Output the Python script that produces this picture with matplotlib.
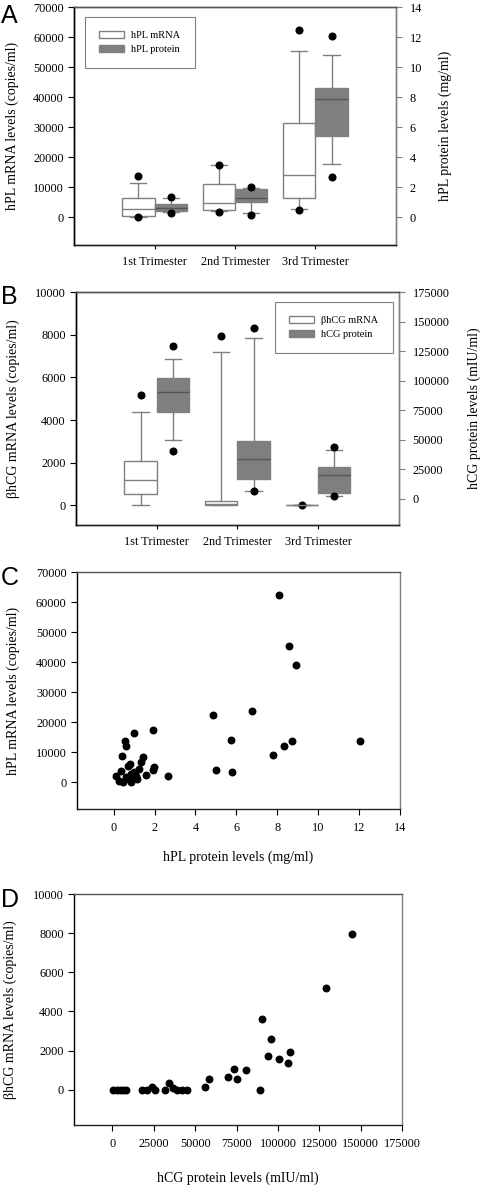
import numpy as np
import matplotlib
matplotlib.use('Agg')
import matplotlib.pyplot as plt
from matplotlib.patches import Patch

plt.rcParams['font.family'] = ['Liberation Serif', 'DejaVu Serif']

trimesters = ['1st Trimester', '2nd Trimester', '3rd Trimester']

# Panel A - hPL mRNA (copies/ml), left axis
hpl_mrna_whislo = [100, 1900, 2700]
hpl_mrna_q1 = [350, 2400, 6500]
hpl_mrna_med = [2700, 4750, 14000]
hpl_mrna_q3 = [6200, 10900, 31200]
hpl_mrna_whishi = [11200, 17300, 55400]
hpl_mrna_fliers = [[13700, -100], [17400, 1800], [62300, 2200]]

# Panel A - hPL protein (mg/ml), right axis
hpl_prot_whislo = [0.35, 0.30, 3.55]
hpl_prot_q1 = [0.40, 1.02, 5.41]
hpl_prot_med = [0.62, 1.28, 7.85]
hpl_prot_q3 = [0.85, 1.85, 8.62]
hpl_prot_whishi = [1.28, 1.95, 10.78]
hpl_prot_fliers = [[1.35, 0.29], [2.0, 0.14], [12.05, 2.7]]

# Panel B - bhCG mRNA (copies/ml), left axis
hcg_mrna_whislo = [0, 0, 0]
hcg_mrna_q1 = [550, 0, 0]
hcg_mrna_med = [1190, 50, 0]
hcg_mrna_q3 = [2090, 190, 0]
hcg_mrna_whishi = [4390, 7190, 0]
hcg_mrna_fliers = [[5190], [7940], [30]]

# Panel B - hCG protein (mIU/ml), right axis
hcg_prot_whislo = [49400, 6200, 2300]
hcg_prot_q1 = [73100, 16400, 5100]
hcg_prot_med = [90300, 33900, 20300]
hcg_prot_q3 = [102200, 48500, 27100]
hcg_prot_whishi = [118500, 135800, 40900]
hcg_prot_fliers = [[129600, 40100], [144800, 6200], [43500, 2300]]

# Panel C - hPL protein (mg/ml) vs hPL mRNA (copies/ml)
hpl_protein = [8.07, 8.56, 8.90, 4.87, 6.76, 1.92, 1.01, 0.57, 0.62, 5.72,
               12.03, 8.72, 8.34, 7.81, 0.41, 1.43, 1.32, 0.81, 0.68, 1.97,
               1.92, 1.22, 5.02, 5.77, 0.34, 2.67, 1.60, 0.13, 0.85, 1.09,
               0.99, 1.14, 0.28, 0.44, 0.85, 0.60, 0.73]
hpl_mrna = [62300, 45400, 39000, 22300, 23600, 17300, 16300, 13800, 12100, 14000,
            13800, 13600, 12100, 9000, 8700, 8200, 6800, 6100, 5400, 5000,
            3900, 4200, 4100, 3200, 3700, 2100, 2400, 1900, 2600, 2000,
            3200, 1000, 300, 100, 100, 1700, 1000]

# Panel D - hCG protein (mIU/ml) vs bhCG mRNA (copies/ml)
hcg_protein = [144400, 129100, 90500, 96000, 93900, 100400, 106000, 107200, 88900, 80900,
               73400, 75200, 70000, 58500, 56100, 34000, 32000, 36400, 39000, 42200,
               45300, 26000, 24000, 20900, 18100, 600, 2600, 4600, 6600, 8400]
hcg_mrna = [7950, 5200, 3620, 2600, 1710, 1560, 1380, 1930, 0, 990,
            1040, 560, 650, 530, 150, 320, 0, 100, 0, 0,
            0, 0, 120, 0, 0, 0, 0, 0, 0, 0]

GRAY = '#808080'
BOXFILL = '#7f7f7f'
TICK_FS = 8.8
LABEL_FS = 10


def make_stats(whislo, q1, med, q3, whishi, fliers):
    return [dict(whislo=a, q1=b, med=c, q3=d, whishi=e, fliers=f)
            for a, b, c, d, e, f in zip(whislo, q1, med, q3, whishi, fliers)]


def draw_boxes(ax, stats, positions, facecolor, medcolor):
    ax.bxp(stats, positions=positions, widths=0.4, patch_artist=True,
           showfliers=True,
           boxprops=dict(facecolor=facecolor, edgecolor=GRAY, linewidth=1),
           whiskerprops=dict(color=GRAY, linewidth=1),
           capprops=dict(color=GRAY, linewidth=1),
           medianprops=dict(color=medcolor, linewidth=1),
           flierprops=dict(marker='o', markerfacecolor='black',
                           markeredgecolor='black', markersize=4.8))


def style_spines(ax):
    ax.spines['left'].set_color('black')
    ax.spines['bottom'].set_color('#222222')
    ax.spines['top'].set_color('#555555')
    ax.spines['right'].set_color(GRAY)
    for s in ax.spines.values():
        s.set_linewidth(1)
    ax.tick_params(direction='out', length=4, width=0.8, labelsize=TICK_FS)


def box_panel(ax, left_stats, right_stats, ylim_l, ylim_r, yticks_l, yticks_r,
              ylabel_l, ylabel_r, labels, loc, anchor, label_x):
    ax2 = ax.twinx()
    cats = np.arange(1, len(trimesters) + 1)
    draw_boxes(ax, left_stats, cats - 0.2, 'white', GRAY)
    draw_boxes(ax2, right_stats, cats + 0.2, BOXFILL, '#555555')
    ax.set_xlim(0, 4)
    ax.set_ylim(*ylim_l)
    ax2.set_ylim(*ylim_r)
    ax.set_yticks(yticks_l)
    ax2.set_yticks(yticks_r)
    ax.set_xticks(cats)
    ax.set_xticklabels(trimesters, fontsize=7.5)
    for a in (ax, ax2):
        style_spines(a)
    ax.tick_params(axis='x', length=3, pad=5)
    ax2.tick_params(axis='y', colors=GRAY, labelcolor='black', pad=6)
    ax.set_ylabel(ylabel_l, fontsize=LABEL_FS)
    ax2.set_ylabel(ylabel_r, fontsize=LABEL_FS, rotation=90)
    ax.yaxis.set_label_coords(label_x[0], 0.5)
    ax2.yaxis.set_label_coords(label_x[1], 0.5)
    handles = [Patch(facecolor='white', edgecolor=GRAY, label=labels[0]),
               Patch(facecolor=BOXFILL, edgecolor=GRAY, label=labels[1])]
    leg = ax2.legend(handles=handles, loc=loc, bbox_to_anchor=anchor,
                     fontsize=7.5, fancybox=False,
                     edgecolor=GRAY, framealpha=1, handlelength=2.4,
                     handleheight=0.65, handletextpad=0.7, borderpad=1.35,
                     labelspacing=0.45, borderaxespad=0)
    leg.get_frame().set_linewidth(0.8)
    return ax2


fig = plt.figure(figsize=(4.84, 11.88), dpi=100)

# Panel A
axA = fig.add_axes([0.153, 0.7938, 0.665, 0.2003])
box_panel(axA,
          make_stats(hpl_mrna_whislo, hpl_mrna_q1, hpl_mrna_med, hpl_mrna_q3, hpl_mrna_whishi, hpl_mrna_fliers),
          make_stats(hpl_prot_whislo, hpl_prot_q1, hpl_prot_med, hpl_prot_q3, hpl_prot_whishi, hpl_prot_fliers),
          (-9300, 70000), (-1.86, 14),
          np.arange(0, 70001, 10000), np.arange(0, 15, 2),
          'hPL mRNA levels (copies/ml)', 'hPL protein levels (mg/ml)',
          ['hPL mRNA', 'hPL protein'], 'upper left', (0.034, 0.958),
          (-0.172, 1.131))

# Panel B
axB = fig.add_axes([0.157, 0.5581, 0.667, 0.1961])
box_panel(axB,
          make_stats(hcg_mrna_whislo, hcg_mrna_q1, hcg_mrna_med, hcg_mrna_q3, hcg_mrna_whishi, hcg_mrna_fliers),
          make_stats(hcg_prot_whislo, hcg_prot_q1, hcg_prot_med, hcg_prot_q3, hcg_prot_whishi, hcg_prot_fliers),
          (-920, 10000), (-22300, 175000),
          np.arange(0, 10001, 2000), np.arange(0, 175001, 25000),
          '\u03b2hCG mRNA levels (copies/ml)', 'hCG protein levels (mIU/ml)',
          ['\u03b2hCG mRNA', 'hCG protein'], 'upper right', (0.981, 0.957),
          (-0.173, 1.214))

# Panel C
axC = fig.add_axes([0.159, 0.319, 0.667, 0.1995])
axC.scatter(hpl_protein, hpl_mrna, s=22, color='black', zorder=3)
axC.set_xlim(-1.8, 14)
axC.set_ylim(-9000, 70000)
axC.set_xticks(np.arange(0, 15, 2))
axC.set_yticks(np.arange(0, 70001, 10000))
style_spines(axC)
axC.tick_params(axis='x', pad=5)
axC.set_xlabel('hPL protein levels (mg/ml)', fontsize=LABEL_FS)
axC.set_ylabel('hPL mRNA levels (copies/ml)', fontsize=LABEL_FS)
axC.yaxis.set_label_coords(-0.176, 0.5)
axC.xaxis.set_label_coords(0.5, -0.173)

# Panel D
axD = fig.add_axes([0.153, 0.053, 0.678, 0.1944])
axD.scatter(hcg_protein, hcg_mrna, s=22, color='black', zorder=3)
axD.set_xlim(-23100, 175000)
axD.set_ylim(-1810, 10000)
axD.set_xticks(np.arange(0, 175001, 25000))
axD.set_yticks(np.arange(0, 10001, 2000))
style_spines(axD)
axD.tick_params(axis='x', pad=5)
axD.set_xlabel('hCG protein levels (mIU/ml)', fontsize=LABEL_FS)
axD.set_ylabel('\u03b2hCG mRNA levels (copies/ml)', fontsize=LABEL_FS)
axD.yaxis.set_label_coords(-0.174, 0.5)
axD.xaxis.set_label_coords(0.5, -0.20)

# Panel letters
for letter, ypix in zip('ABCD', [16, 297, 578, 900]):
    fig.text(0.002, 1 - ypix / 1188, letter, fontsize=18, family='Liberation Sans',
             va='center', ha='left')

plt.savefig('out.png', dpi=100)
plt.close()
